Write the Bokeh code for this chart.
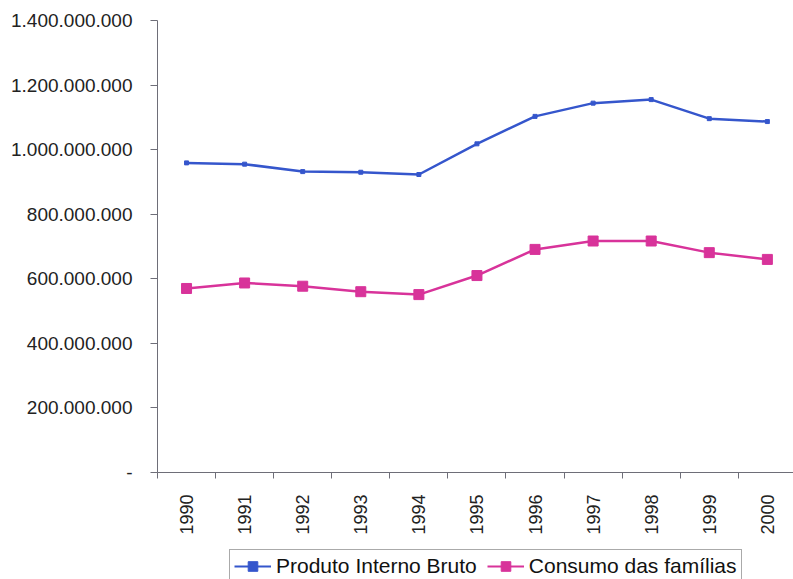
from math import pi
from bokeh.plotting import figure
from bokeh.layouts import column
from bokeh.models import Range1d, FixedTicker, Legend, LegendItem
from bokeh.embed import file_html
from bokeh.resources import INLINE

years = [1990, 1991, 1992, 1993, 1994, 1995, 1996, 1997, 1998, 1999, 2000]
pib = [959e6, 955e6, 932e6, 930e6, 923e6, 1018e6, 1103e6, 1144e6, 1155e6, 1096e6, 1087e6]
consumo = [570e6, 587e6, 577e6, 560e6, 551e6, 610e6, 691e6, 717e6, 717e6, 681e6, 660e6]
y_ticks = [0, 200e6, 400e6, 600e6, 800e6, 1000e6, 1200e6, 1400e6]
y_labels = ["-", "200.000.000", "400.000.000", "600.000.000", "800.000.000",
            "1.000.000.000", "1.200.000.000", "1.400.000.000"]
series_names = ["Produto Interno Bruto", "Consumo das famílias"]

FONT = "Liberation Sans"
AXIS_COLOR = "#6e6e78"
blue = "#3556cc"
pink = "#d8339a"

p = figure(width=793, height=540, output_backend="svg", toolbar_location=None,
           x_range=Range1d(1989.5, 2000.45), y_range=Range1d(0, 1.4e9),
           min_border_left=157, min_border_right=0, min_border_top=20, min_border_bottom=68,
           background_fill_color="white", border_fill_color="white")
p.outline_line_color = None
p.grid.visible = False

# x axis: labels at the years, tick marks between categories
p.xaxis.ticker = FixedTicker(ticks=years, minor_ticks=[y - 0.5 for y in years] + [years[-1] + 0.5])
p.xaxis.major_label_overrides = {y: str(y) for y in years}
p.xaxis.major_label_orientation = pi / 2
p.xaxis.major_tick_out = 0
p.xaxis.major_tick_in = 0
p.xaxis.minor_tick_out = 6
p.xaxis.minor_tick_in = 0
p.xaxis.minor_tick_line_color = AXIS_COLOR
p.xaxis.axis_line_color = AXIS_COLOR
p.xaxis.major_label_standoff = 16
p.xaxis.major_label_text_font = FONT
p.xaxis.major_label_text_font_size = "18px"
p.xaxis.major_label_text_color = "#222222"

# y axis
p.yaxis.ticker = FixedTicker(ticks=y_ticks, minor_ticks=[])
p.yaxis.major_label_overrides = {t: l for t, l in zip(y_ticks, y_labels)}
p.yaxis.major_tick_out = 7
p.yaxis.major_tick_in = 0
p.yaxis.major_tick_line_color = AXIS_COLOR
p.yaxis.axis_line_color = AXIS_COLOR
p.yaxis.major_label_standoff = 18
p.yaxis.major_label_text_font = FONT
p.yaxis.major_label_text_font_size = "19px"
p.yaxis.major_label_text_color = "#222222"

p.line(years, pib, line_color=blue, line_width=2.5)
p.scatter(years, pib, marker="square", size=4, fill_color=blue, line_color=blue)
p.line(years, consumo, line_color=pink, line_width=2.5)
p.scatter(years, consumo, marker="square", size=10, fill_color=pink, line_color=pink)

# legend strip below the chart (its series lie outside this strip's ranges)
q = figure(width=793, height=39, output_backend="svg", toolbar_location=None,
           x_range=Range1d(0, 1), y_range=Range1d(0, 1),
           x_axis_type=None, y_axis_type=None,
           min_border_left=0, min_border_right=0, min_border_top=0, min_border_bottom=0,
           background_fill_color="white", border_fill_color="white")
q.outline_line_color = None
q.grid.visible = False
ql1 = q.line(years, pib, line_color=blue, line_width=2)
qm1 = q.scatter(years, pib, marker="square", size=2, fill_color=blue, line_color=blue)
ql2 = q.line(years, consumo, line_color=pink, line_width=2)
qm2 = q.scatter(years, consumo, marker="square", size=7, fill_color=pink, line_color=pink)

legend = Legend(items=[LegendItem(label=series_names[0], renderers=[ql1, qm1]),
                       LegendItem(label=series_names[1], renderers=[ql2, qm2])],
                orientation="horizontal", location=(72, -4),
                label_text_font=FONT, label_text_font_size="21px", label_text_color="#111111",
                glyph_width=37, glyph_height=24, label_standoff=5, spacing=10,
                padding=4, margin=0, border_line_color="#555555", border_line_width=1,
                label_height=24, background_fill_color="white")
q.add_layout(legend, "center")

layout = column(p, q, spacing=0)
open("out.html", "w").write(file_html(layout, INLINE))
